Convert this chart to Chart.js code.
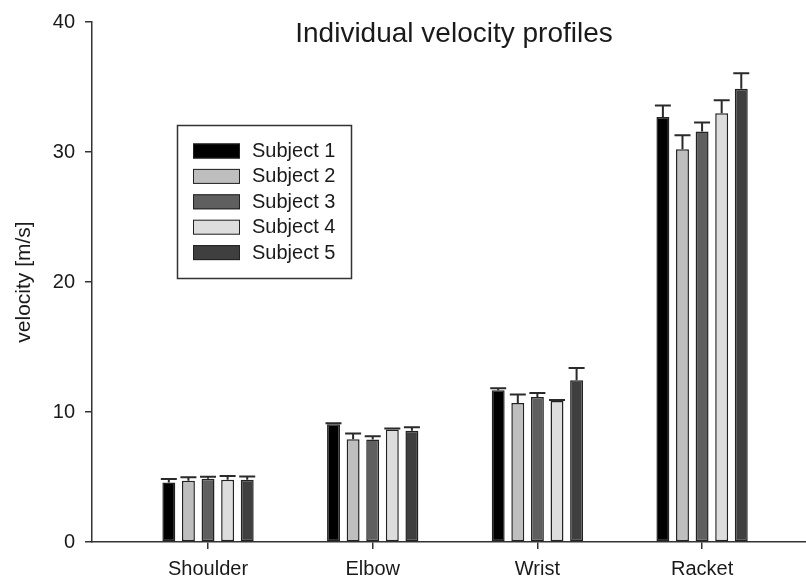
<!DOCTYPE html>
<html>
<head>
<meta charset="utf-8">
<script src="https://cdn.jsdelivr.net/npm/chart.js@4/dist/chart.umd.min.js"></script>
<style>
  html, body { margin: 0; padding: 0; background: #fff; }
  #wrap { width: 806px; height: 579px; }
</style>
</head>
<body>
<div id="wrap"><canvas id="velChart"></canvas></div>
<script>
// joints on the x axis
var categories = ['Shoulder', 'Elbow', 'Wrist', 'Racket'];
var subjects = ['Subject 1', 'Subject 2', 'Subject 3', 'Subject 4', 'Subject 5'];

// mean velocity per subject [m/s]
var subject1 = [4.58, 9.06, 11.67, 32.7];
var subject2 = [4.71, 7.91, 10.70, 30.22];
var subject3 = [4.86, 7.88, 11.15, 31.57];
var subject4 = [4.78, 8.65, 10.85, 32.98];
var subject5 = [4.78, 8.55, 12.44, 34.87];

// standard deviations (upper error bar)
var err1 = [0.26, 0.08, 0.15, 0.87];
var err2 = [0.28, 0.43, 0.64, 1.07];
var err3 = [0.15, 0.26, 0.31, 0.69];
var err4 = [0.30, 0.08, 0.08, 1.00];
var err5 = [0.26, 0.28, 0.94, 1.18];

var yTicks = [0, 10, 20, 30, 40];

var fills = ['#000000', '#bebebe', '#5f5f5f', '#dddddd', '#3f3f3f'];
var FONT = "'Liberation Sans', Arial, sans-serif";
var INK = '#1a1a1a';

var series = [subject1, subject2, subject3, subject4, subject5];
var errors = [err1, err2, err3, err4, err5];

var datasets = series.map(function(vals, i) {
  return {
    label: subjects[i],
    data: vals.map(function(v, j) { return { x: j, y: v }; }),
    errs: errors[i],
    backgroundColor: fills[i],
    borderColor: '#222',
    borderWidth: 1.5,
    borderSkipped: false,
    categoryPercentage: 0.595,
    barPercentage: 0.66
  };
});

// upper error bars with caps
var errorBars = {
  id: 'errorBars',
  afterDatasetsDraw: function(chart) {
    var ctx = chart.ctx;
    var y = chart.scales.y;
    ctx.save();
    ctx.strokeStyle = '#2a2a2a';
    ctx.lineWidth = 2;
    chart.data.datasets.forEach(function(ds, i) {
      var meta = chart.getDatasetMeta(i);
      meta.data.forEach(function(bar, j) {
        var top = y.getPixelForValue(ds.data[j].y + ds.errs[j]);
        ctx.beginPath();
        ctx.moveTo(bar.x, bar.y);
        ctx.lineTo(bar.x, top);
        ctx.moveTo(bar.x - 8, top);
        ctx.lineTo(bar.x + 8, top);
        ctx.stroke();
      });
    });
    ctx.restore();
  }
};

// title and boxed legend drawn inside the plot
var overlay = {
  id: 'overlay',
  afterDraw: function(chart) {
    var ctx = chart.ctx;
    ctx.save();
    ctx.fillStyle = INK;
    ctx.font = '28px ' + FONT;
    ctx.textAlign = 'center';
    ctx.textBaseline = 'alphabetic';
    ctx.fillText('Individual velocity profiles', 454, 42);

    ctx.strokeStyle = '#333';
    ctx.lineWidth = 1.5;
    ctx.strokeRect(177.5, 125.5, 174, 153);

    ctx.font = '20px ' + FONT;
    ctx.textAlign = 'left';
    ctx.textBaseline = 'middle';
    chart.data.datasets.forEach(function(ds, i) {
      var top = 143.5 + i * 25.4;
      ctx.fillStyle = ds.backgroundColor;
      ctx.fillRect(193, top, 47, 15);
      ctx.lineWidth = 1;
      ctx.strokeStyle = '#222';
      ctx.strokeRect(193.5, top + 0.5, 46, 14);
      ctx.fillStyle = INK;
      ctx.fillText(ds.label, 252, top + 8);
    });
    ctx.restore();
  }
};

new Chart(document.getElementById('velChart').getContext('2d'), {
  type: 'bar',
  data: { datasets: datasets },
  plugins: [errorBars, overlay],
  options: {
    responsive: true,
    maintainAspectRatio: false,
    animation: false,
    layout: { padding: { top: 21, right: 0, left: 0, bottom: 0 } },
    plugins: {
      legend: { display: false },
      tooltip: { enabled: false }
    },
    scales: {
      x: {
        type: 'linear',
        offset: false,
        min: -0.7045,
        max: 3.631,
        afterBuildTicks: function(scale) {
          scale.ticks = categories.map(function(c, i) { return { value: i }; });
        },
        afterFit: function(scale) { scale.height = 37; },
        ticks: {
          autoSkip: false,
          maxRotation: 0,
          padding: 8,
          color: INK,
          font: { family: FONT, size: 20 },
          callback: function(v) { return categories[v]; }
        },
        grid: { offset: false, drawOnChartArea: false, drawTicks: true, tickLength: 7, color: '#333', lineWidth: 1.5 },
        border: { display: true, color: '#333', width: 1.5 }
      },
      y: {
        min: 0,
        max: 40,
        afterBuildTicks: function(scale) {
          scale.ticks = yTicks.map(function(v) { return { value: v }; });
        },
        afterFit: function(scale) { scale.width = 92; },
        ticks: {
          padding: 10,
          color: INK,
          font: { family: FONT, size: 20 }
        },
        title: {
          display: true,
          text: 'velocity [m/s]',
          color: INK,
          font: { family: FONT, size: 21 },
          padding: { top: 12, bottom: 0 }
        },
        grid: { drawOnChartArea: false, drawTicks: true, tickLength: 7, color: '#333', lineWidth: 1.5 },
        border: { display: true, color: '#333', width: 1.5 }
      }
    }
  }
});
</script>
</body>
</html>
